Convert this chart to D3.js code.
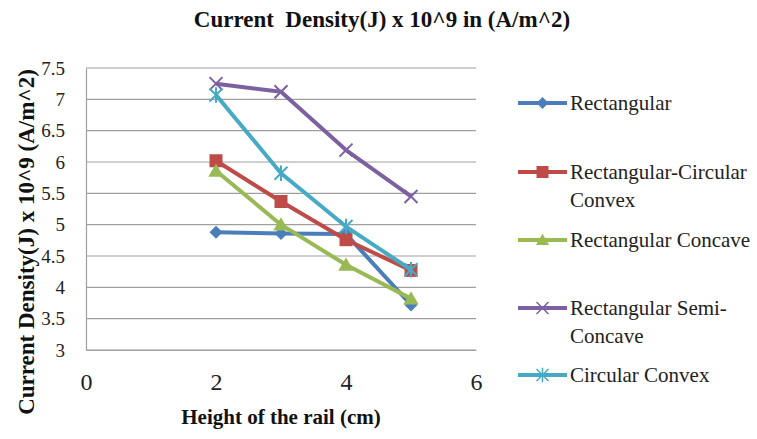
<!DOCTYPE html>
<html>
<head>
<meta charset="utf-8">
<script src="https://cdn.jsdelivr.net/npm/d3@7"></script>
<style>
  html, body { margin: 0; padding: 0; background: #fff; }
  svg { display: block; font-family: "Liberation Serif", "Times New Roman", serif; }
</style>
</head>
<body>
<svg id="chart" width="757" height="439"></svg>
<script>
// Rail heights (cm)
const heights = [2, 3, 4, 5];

// Current density J (x 10^9 A/m^2) for each rail profile
const rectangular = [4.88, 4.86, 4.85, 3.72];
const rectCircularConvex = [6.02, 5.37, 4.76, 4.27];
const rectConcave = [5.86, 5.00, 4.36, 3.82];
const rectSemiConcave = [7.25, 7.12, 6.19, 5.45];
const circularConvex = [7.07, 5.82, 4.97, 4.28];

const seriesNames = [
  "Rectangular",
  "Rectangular-Circular Convex",
  "Rectangular Concave",
  "Rectangular Semi-Concave",
  "Circular Convex"
];
// legend labels wrapped onto lines
const legendLines = [
  ["Rectangular"],
  ["Rectangular-Circular", "Convex"],
  ["Rectangular Concave"],
  ["Rectangular Semi-", "Concave"],
  ["Circular Convex"]
];
const seriesColors = ["#4A7EBB", "#BE4B48", "#98B954", "#7D60A0", "#46AAC5"];
const seriesMarkers = ["diamond", "square", "triangle", "cross", "star"];

const xTicks = [0, 2, 4, 6];
const yTicks = [3, 3.5, 4, 4.5, 5, 5.5, 6, 6.5, 7, 7.5];

const seriesValues = [rectangular, rectCircularConvex, rectConcave, rectSemiConcave, circularConvex];

const svg = d3.select("#chart");

const plot = { left: 86, right: 476, top: 68, bottom: 350 };
const x = d3.scaleLinear().domain([0, 6]).range([plot.left, plot.right]);
const y = d3.scaleLinear().domain([3, 7.5]).range([plot.bottom, plot.top]);

// horizontal gridlines
svg.append("g")
  .selectAll("line")
  .data(yTicks)
  .join("line")
  .attr("x1", plot.left).attr("x2", plot.right)
  .attr("y1", d => y(d)).attr("y2", d => y(d))
  .attr("stroke", "#9f9f9f").attr("stroke-width", 1.2);

// y axis
const yAxis = svg.append("g")
  .attr("transform", `translate(${plot.left},0)`)
  .call(d3.axisLeft(y).tickValues(yTicks).tickSize(0).tickPadding(21)
    .tickFormat(d => String(d)));
yAxis.select(".domain").attr("stroke", "#9f9f9f").attr("stroke-width", 1.2);
yAxis.selectAll("text")
  .attr("font-family", "Liberation Serif").attr("font-size", 19).attr("fill", "#222");

// x axis
const xAxis = svg.append("g")
  .attr("transform", `translate(0,${plot.bottom})`)
  .call(d3.axisBottom(x).tickValues(xTicks).tickSize(0).tickPadding(23)
    .tickFormat(d => String(d)));
xAxis.select(".domain").attr("stroke", "#9f9f9f").attr("stroke-width", 1.2);
xAxis.selectAll("text")
  .attr("font-family", "Liberation Serif").attr("font-size", 24).attr("fill", "#222");

// marker symbols
function markerPath(kind, s) {
  switch (kind) {
    case "diamond": return `M0,${-s}L${s},0L0,${s}L${-s},0Z`;
    case "square": return `M${-s},${-s}H${s}V${s}H${-s}Z`;
    case "triangle": return `M0,${-s * 1.05}L${s * 1.1},${s * 0.85}L${-s * 1.1},${s * 0.85}Z`;
    case "cross": return `M${-s},${-s}L${s},${s}M${-s},${s}L${s},${-s}`;
    case "star": return `M${-s},${-s}L${s},${s}M${-s},${s}L${s},${-s}M0,${-s * 1.2}V${s * 1.2}`;
  }
}
const markerSize = [6.5, 6.5, 7, 6.5, 6.5];

const line = d3.line().x(d => x(d[0])).y(d => y(d[1]));

seriesValues.forEach((vals, i) => {
  const pts = heights.map((h, k) => [h, vals[k]]);
  const g = svg.append("g");
  g.append("path")
    .datum(pts)
    .attr("d", line)
    .attr("fill", "none")
    .attr("stroke", seriesColors[i])
    .attr("stroke-width", 4)
    .attr("stroke-linejoin", "round");
  const kind = seriesMarkers[i];
  const open = kind === "cross" || kind === "star";
  g.selectAll("path.mk")
    .data(pts)
    .join("path")
    .attr("class", "mk")
    .attr("transform", d => `translate(${x(d[0])},${y(d[1])})`)
    .attr("d", markerPath(kind, markerSize[i]))
    .attr("fill", open ? "none" : seriesColors[i])
    .attr("stroke", seriesColors[i])
    .attr("stroke-width", open ? 2 : 0);
});

// legend
const legendY = [103, 172, 240, 308, 375];
const legend = svg.append("g");
seriesNames.forEach((name, i) => {
  const cy = legendY[i];
  legend.append("line")
    .attr("x1", 518).attr("x2", 567).attr("y1", cy).attr("y2", cy)
    .attr("stroke", seriesColors[i]).attr("stroke-width", 4);
  const kind = seriesMarkers[i];
  const open = kind === "cross" || kind === "star";
  legend.append("path")
    .attr("transform", `translate(542.5,${cy})`)
    .attr("d", markerPath(kind, 6))
    .attr("fill", open ? "none" : seriesColors[i])
    .attr("stroke", seriesColors[i])
    .attr("stroke-width", open ? 1.5 : 0);
  const t = legend.append("text")
    .attr("x", 570).attr("y", cy + 7)
    .attr("font-size", 21).attr("fill", "#222");
  legendLines[i].forEach((ln, k) => {
    t.append("tspan").attr("x", 570).attr("dy", k === 0 ? 0 : 28).text(ln);
  });
});

// chart title
svg.append("text")
  .attr("x", 382).attr("y", 27)
  .attr("text-anchor", "middle")
  .attr("font-weight", "bold").attr("font-size", 23).attr("fill", "#111")
  .attr("xml:space", "preserve")
  .text("Current  Density(J) x 10^9 in (A/m^2)");

// axis titles
svg.append("text")
  .attr("x", 281).attr("y", 424)
  .attr("text-anchor", "middle")
  .attr("font-weight", "bold").attr("font-size", 21).attr("fill", "#111")
  .text("Height of the rail (cm)");

svg.append("text")
  .attr("transform", "translate(34,242) rotate(-90)")
  .attr("text-anchor", "middle")
  .attr("font-weight", "bold").attr("font-size", 23).attr("fill", "#111")
  .text("Current Density(J) x 10^9 (A/m^2)");
</script>
</body>
</html>
